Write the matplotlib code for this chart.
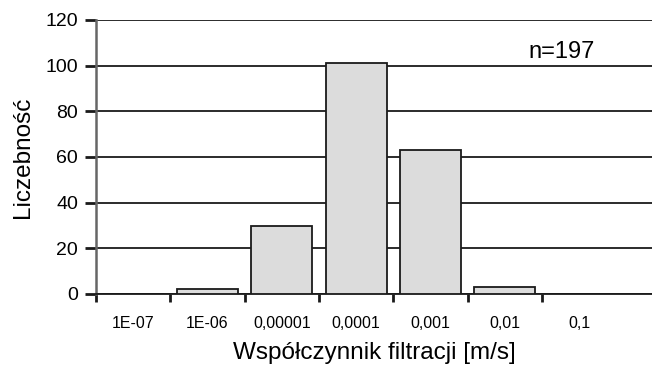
import matplotlib.pyplot as plt

# ---------------------- Data -------------------
categories = ["1E-07", "1E-06", "0,00001", "0,0001", "0,001", "0,01", "0,1"]
counts = [0, 2, 30, 101, 63, 3, 0]
n_label = "n=197"

plt.rcParams['font.family'] = ['Liberation Sans', 'DejaVu Sans']

fig = plt.figure(figsize=(6.52, 3.67), dpi=100)
ax = fig.add_axes([96 / 652, 1 - 294 / 367, 1 - 96 / 652, 274 / 367])

x = list(range(len(categories)))
ax.bar(x, counts, width=0.82, color='#dcdcdc', edgecolor='#1a1a1a', linewidth=1.3, zorder=3)

ax.set_ylim(0, 120)
ax.set_yticks(range(0, 121, 20))
ax.yaxis.grid(True, color='#1a1a1a', linewidth=1.3, zorder=0)
ax.set_xlim(-0.5, 6.98)

# ticks at bin boundaries, labels at centres
ax.set_xticks([i - 0.5 for i in range(len(categories))])
ax.set_xticklabels([])
ax.set_xticks(x, minor=True)
ax.set_xticklabels(categories, minor=True, fontsize=11.5)
ax.tick_params(axis='x', which='minor', length=0, pad=16)
ax.tick_params(axis='x', which='major', length=6, width=2, color='#1a1a1a', direction='out')
ax.tick_params(axis='y', length=8, width=2, color='#1a1a1a', labelsize=14, pad=5)

for side in ['top', 'right']:
    ax.spines[side].set_visible(False)
ax.spines['left'].set_color('#666666')
ax.spines['left'].set_linewidth(1.8)
ax.spines['bottom'].set_color('#1a1a1a')
ax.spines['bottom'].set_linewidth(1.3)

ax.set_ylabel('Liczebność', fontsize=17.5, labelpad=8)
ax.set_xlabel('Współczynnik filtracji [m/s]', fontsize=17.5, labelpad=8)
ax.text(5.76, 106, n_label, fontsize=17, va='center', ha='center')

fig.savefig('out.png', dpi=100)
